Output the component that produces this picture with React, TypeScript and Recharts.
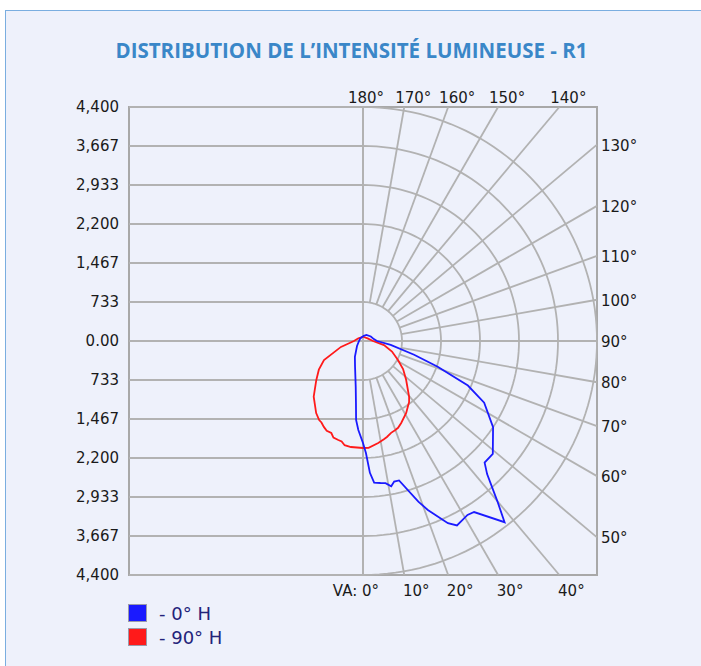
import { ScatterChart, Scatter, XAxis, YAxis, ReferenceArea } from "recharts";

const title = "DISTRIBUTION DE L’INTENSITÉ LUMINEUSE - R1";

// plan 0° H : C0 (droite) / C180 (gauche), angle depuis le nadir
const c0Angles = [0, 1.5, 3, 4.5, 7, 9, 11, 12.5, 14.5, 19, 21, 25, 27, 31, 33, 38, 40, 43, 45, 49, 56.5, 63, 67, 71, 75, 82, 90, 100, 120, 150, 180];
const c0Values = [1918, 2106, 2482, 2670, 2690, 2707, 2782, 2707, 2707, 3196, 3403, 3779, 3892, 3816, 3835, 4324, 3929, 3422, 3234, 3234, 2933, 2557, 2143, 1485, 995, 526, 263, 207, 170, 130, 90];
const c180Angles = [0, 3, 5, 6.5, 9, 17, 27, 50, 90, 130, 180];
const c180Values = [1918, 1675, 1490, 1170, 874, 511, 336, 147, 75, 70, 90];

// plan 90° H : C90 (droite) / C270 (gauche)
const c90Angles = [0, 3, 8.5, 12, 14, 17, 20, 22, 25, 31, 35, 37, 39.5, 48, 55, 61.5, 70, 79, 90, 120, 180];
const c90Values = [2012, 2012, 1938, 1890, 1860, 1806, 1780, 1760, 1700, 1577, 1480, 1440, 1363, 1091, 920, 748, 580, 402, 188, 100, 80];
const c270Angles = [0, 6.5, 10, 12, 14, 17, 19, 22, 24.5, 27, 29, 33, 41.5, 50, 57, 64, 75, 90, 120, 180];
const c270Values = [2012, 2006, 1990, 1930, 1918, 1900, 1830, 1820, 1775, 1720, 1700, 1617, 1399, 1147, 990, 816, 429, 170, 100, 80];

const seriesNames = ["- 0° H", "- 90° H"];
const seriesColors = ["#1a1aff", "#ff1a1a"];

const MAX = 4400;
const yTicks = [4400, 3666.67, 2933.33, 2200, 1466.67, 733.33, 0, -733.33, -1466.67, -2200, -2933.33, -3666.67, -4400];
const yTickLabels = ["4,400", "3,667", "2,933", "2,200", "1,467", "733", "0.00", "733", "1,467", "2,200", "2,933", "3,667", "4,400"];
const rings = [733.33, 1466.67, 2200, 2933.33, 3666.67, 4400];
const gridAngles = [0, 10, 20, 30, 40, 50, 60, 70, 80, 90, 100, 110, 120, 130, 140, 150, 160, 170, 180];
const angleLabels = ["VA: 0°", "10°", "20°", "30°", "40°", "50°", "60°", "70°", "80°", "90°", "100°", "110°", "120°", "130°", "140°", "150°", "160°", "170°", "180°"];

const GRID = "#b2b2b2";
const rad = (a: number) => (a * Math.PI) / 180;
const toXY = (a: number, v: number, side: number) => ({
  x: side * v * Math.sin(rad(a)),
  y: -v * Math.cos(rad(a)),
});

const blueData = [
  ...c180Angles.map((a, i) => toXY(a, c180Values[i], -1)).reverse(),
  ...c0Angles.map((a, i) => toXY(a, c0Values[i], 1)),
];
const redData = [
  ...c270Angles.map((a, i) => toXY(a, c270Values[i], -1)).reverse(),
  ...c90Angles.map((a, i) => toXY(a, c90Values[i], 1)),
];

// distance jusqu'au bord du cadre
const edgeDist = (a: number) => {
  const s = Math.abs(Math.sin(rad(a)));
  const c = Math.abs(Math.cos(rad(a)));
  return Math.min(s > 1e-6 ? MAX / s : Infinity, c > 1e-6 ? MAX / c : Infinity);
};

const gridLines: { x: number; y: number }[][] = [];
yTicks.forEach((t) => gridLines.push([{ x: -MAX, y: t }, { x: 0, y: t }]));
gridLines.push([{ x: 0, y: -MAX }, { x: 0, y: MAX }]);
gridLines.push([{ x: 0, y: 0 }, { x: MAX, y: 0 }]);
gridAngles.forEach((a) => gridLines.push([toXY(a, rings[0], 1), toXY(a, edgeDist(a), 1)]));
rings.forEach((r) => {
  const pts = [];
  for (let a = 0; a <= 180; a += 2) pts.push(toXY(a, r, 1));
  gridLines.push(pts);
});

const labelPoints = gridAngles.map((a, i) => {
  const p = toXY(a, edgeDist(a), 1);
  const edge = a > 135 ? "top" : a < 45 ? "bottom" : "right";
  return { ...p, label: angleLabels[i], angle: a, edge };
});

const noDot = () => <g />;

const AngleLabel = (props: any) => {
  const { cx, cy, payload } = props;
  const style = { fontFamily: "DejaVu Sans", fontSize: 15, fill: "#1a1a1a" };
  if (payload.edge === "top") {
    return (
      <text x={cx + (payload.angle === 180 ? 3 : 9)} y={cy - 9} textAnchor="middle" dominantBaseline="central" {...style}>
        {payload.label}
      </text>
    );
  }
  if (payload.edge === "right") {
    return (
      <text x={cx + 4} y={cy + 1} textAnchor="start" dominantBaseline="central" {...style}>
        {payload.label}
      </text>
    );
  }
  return (
    <text
      x={payload.angle === 0 ? cx + 16 : cx + 12}
      y={cy + 16}
      textAnchor={payload.angle === 0 ? "end" : "middle"}
      dominantBaseline="central"
      {...style}
    >
      {payload.label}
    </text>
  );
};

const yLabel = (v: number) => {
  let best = 0;
  yTicks.forEach((t, i) => {
    if (Math.abs(t - v) < Math.abs(yTicks[best] - v)) best = i;
  });
  return yTickLabels[best];
};

export default function App() {
  return (
    <div style={{ position: "absolute", left: 0, top: 0, width: 701, height: 666, background: "#fff", overflow: "hidden" }}>
      <div
        style={{
          position: "absolute",
          left: 5,
          top: 10,
          width: 720,
          height: 700,
          border: "1.5px solid #7aaee0",
          background: "#eef1fb",
        }}
      />
      <div
        style={{
          position: "absolute",
          left: 0,
          top: 37,
          width: 703,
          textAlign: "center",
          fontFamily: "Open Sans",
          fontWeight: 700,
          fontSize: 20.5,
          color: "#3a87c8",
          lineHeight: "26px",
        }}
      >
        {title}
      </div>
      <div style={{ position: "absolute", left: 0, top: 0 }}>
        <ScatterChart width={701} height={666} margin={{ top: 107, right: 104, bottom: 91, left: 0 }}>
          <XAxis type="number" dataKey="x" domain={[-MAX, MAX]} hide />
          <YAxis
            type="number"
            dataKey="y"
            domain={[-MAX, MAX]}
            ticks={yTicks}
            interval={0}
            width={129}
            axisLine={false}
            tickLine={false}
            tickMargin={4}
            tickFormatter={yLabel}
            tick={{ fill: "#1a1a1a", fontSize: 15, fontFamily: "DejaVu Sans" }}
          />
          {gridLines.map((pts, i) => (
            <Scatter
              key={"g" + i}
              data={pts}
              fill={GRID}
              line={{ stroke: GRID, strokeWidth: 1.8 }}
              shape={noDot}
              isAnimationActive={false}
            />
          ))}
          <ReferenceArea x1={-MAX} x2={MAX} y1={-MAX} y2={MAX} fill="none" fillOpacity={0} stroke="#a8a8a8" strokeWidth={2} />
          <Scatter
            name={seriesNames[1]}
            data={redData}
            fill={seriesColors[1]}
            line={{ stroke: seriesColors[1], strokeWidth: 1.8 }}
            shape={noDot}
            isAnimationActive={false}
          />
          <Scatter
            name={seriesNames[0]}
            data={blueData}
            fill={seriesColors[0]}
            line={{ stroke: seriesColors[0], strokeWidth: 1.8 }}
            shape={noDot}
            isAnimationActive={false}
          />
          <Scatter data={labelPoints} fill="#000" shape={AngleLabel} isAnimationActive={false} />
        </ScatterChart>
      </div>
      <div style={{ position: "absolute", left: 128, top: 601, fontFamily: "DejaVu Sans", fontSize: 18, color: "#23237a" }}>
        {seriesNames.map((n, i) => (
          <div key={n} style={{ display: "flex", alignItems: "center", height: 24 }}>
            <span
              style={{
                display: "inline-block",
                width: 17,
                height: 16,
                background: seriesColors[i],
                border: "1px solid #9a9aaa",
                marginRight: 12,
              }}
            />
            {n}
          </div>
        ))}
      </div>
    </div>
  );
}
